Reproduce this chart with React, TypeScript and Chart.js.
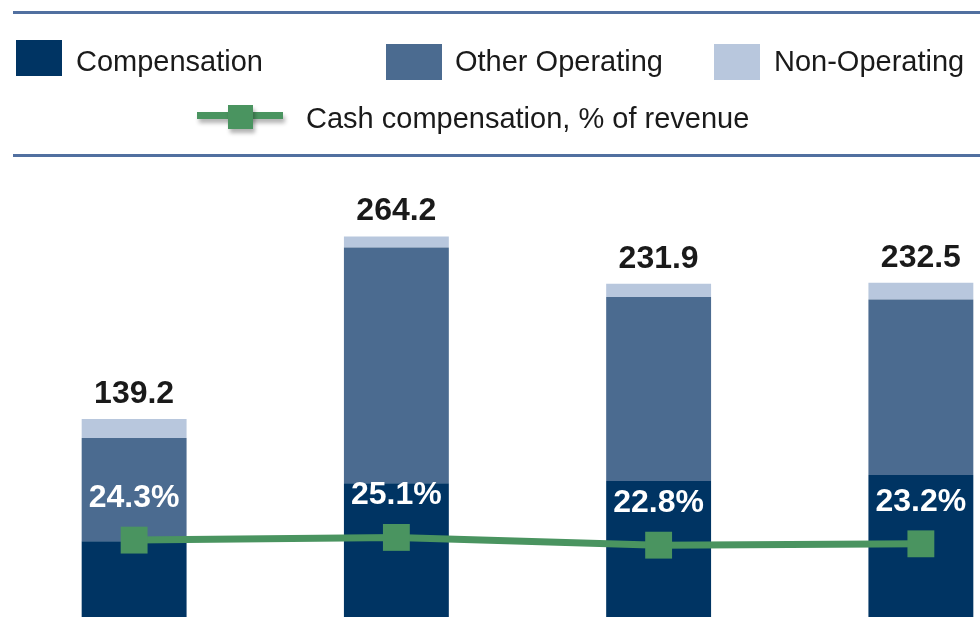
import React, { useEffect, useRef } from "react";
import { Chart, registerables } from "chart.js";

Chart.register(...registerables);

const categories = ["A", "B", "C", "D"];
const compensation = [55.3, 95.1, 96.7, 100.8];
const otherOperating = [70.9, 161.6, 126.1, 120.3];
const nonOperating = [13.0, 7.5, 9.1, 11.4];
const totalLabels = ["139.2", "264.2", "231.9", "232.5"];
const cashCompPct = [24.3, 25.1, 22.8, 23.2];
const pctLabels = ["24.3%", "25.1%", "22.8%", "23.2%"];

const COL_COMP = "#003463";
const COL_OTHER = "#4B6B90";
const COL_NONOP = "#B8C7DD";
const COL_GREEN = "#4A9460";
const COL_RULE = "#5170A0";
const FONT = "'Liberation Sans', Arial, Helvetica, sans-serif";

const labelPlugin = {
  id: "valueLabels",
  afterDatasetsDraw(chart: any) {
    const ctx = chart.ctx;
    ctx.save();
    ctx.textAlign = "center";
    ctx.textBaseline = "middle";
    ctx.font = `bold 32px ${FONT}`;
    const topMeta = chart.getDatasetMeta(3);
    topMeta.data.forEach((bar: any, i: number) => {
      ctx.fillStyle = "#1a1a1a";
      ctx.fillText(totalLabels[i], bar.x, bar.y - 25);
    });
    const lineMeta = chart.getDatasetMeta(0);
    lineMeta.data.forEach((pt: any, i: number) => {
      ctx.fillStyle = "#ffffff";
      ctx.fillText(pctLabels[i], pt.x, pt.y - 42);
    });
    ctx.restore();
  },
};

function LegendBox({ left, top, w, h, color }: any) {
  return (
    <div
      style={{
        position: "absolute",
        left,
        top,
        width: w,
        height: h,
        background: color,
      }}
    />
  );
}

function LegendText({ left, baseline, text }: any) {
  return (
    <span
      style={{
        position: "absolute",
        left,
        top: baseline - 24.5,
        fontFamily: FONT,
        fontSize: 29,
        lineHeight: "29px",
        color: "#1a1a1a",
        whiteSpace: "nowrap",
      }}
    >
      {text}
    </span>
  );
}

export default function App() {
  const canvasRef = useRef<HTMLCanvasElement | null>(null);

  useEffect(() => {
    if (!canvasRef.current) return;
    const chart = new Chart(canvasRef.current, {
      type: "bar",
      data: {
        labels: categories,
        datasets: [
          {
            type: "line",
            label: "Cash compensation, % of revenue",
            data: cashCompPct,
            yAxisID: "y2",
            borderColor: COL_GREEN,
            backgroundColor: COL_GREEN,
            borderWidth: 7,
            pointStyle: "rect",
            pointRadius: 19,
            pointBorderWidth: 0,
            pointBackgroundColor: COL_GREEN,
            tension: 0,
            order: 0,
          } as any,
          {
            label: "Compensation",
            data: compensation,
            backgroundColor: COL_COMP,
            stack: "s",
            order: 1,
          },
          {
            label: "Other Operating",
            data: otherOperating,
            backgroundColor: COL_OTHER,
            stack: "s",
            order: 1,
          },
          {
            label: "Non-Operating",
            data: nonOperating,
            backgroundColor: COL_NONOP,
            stack: "s",
            order: 1,
          },
        ],
      },
      options: {
        animation: false,
        responsive: false,
        maintainAspectRatio: false,
        layout: { autoPadding: false, padding: { left: 3, right: 4, top: 160, bottom: 18 } } as any,
        datasets: {
          bar: { categoryPercentage: 1, barPercentage: 0.4 },
        } as any,
        plugins: {
          legend: { display: false },
          tooltip: { enabled: false },
        },
        scales: {
          x: { display: false, stacked: true },
          y: { display: false, stacked: true, min: 0, max: 316.7 },
          y2: { display: false, min: 0, max: 137.1, position: "right" },
        },
      },
      plugins: [labelPlugin],
    });
    return () => chart.destroy();
  }, []);

  return (
    <div
      style={{
        position: "absolute",
        left: 0,
        top: 0,
        width: 980,
        height: 617,
        overflow: "hidden",
        background: "#ffffff",
      }}
    >
      <canvas
        ref={canvasRef}
        width={1056}
        height={640}
        style={{ position: "absolute", left: 0, top: 0, width: 1056, height: 640 }}
      />
      <div style={{ position: "absolute", left: 13, top: 11, width: 980, height: 2.5, background: COL_RULE }} />
      <div style={{ position: "absolute", left: 13, top: 154, width: 980, height: 2.5, background: COL_RULE }} />
      <LegendBox left={16} top={40} w={46} h={36} color={COL_COMP} />
      <LegendText left={76} baseline={71} text="Compensation" />
      <LegendBox left={386} top={44} w={56} h={36} color={COL_OTHER} />
      <LegendText left={455} baseline={71} text="Other Operating" />
      <LegendBox left={714} top={44} w={46} h={36} color={COL_NONOP} />
      <LegendText left={774} baseline={71} text="Non-Operating" />
      <div
        style={{
          position: "absolute",
          left: 197,
          top: 112,
          width: 86,
          height: 7,
          background: COL_GREEN,
          boxShadow: "2px 4px 4px rgba(0,0,0,0.3)",
        }}
      />
      <div
        style={{
          position: "absolute",
          left: 228,
          top: 105,
          width: 25,
          height: 24,
          background: COL_GREEN,
          boxShadow: "2px 4px 4px rgba(0,0,0,0.3)",
        }}
      />
      <LegendText left={306} baseline={128} text="Cash compensation, % of revenue" />
    </div>
  );
}
